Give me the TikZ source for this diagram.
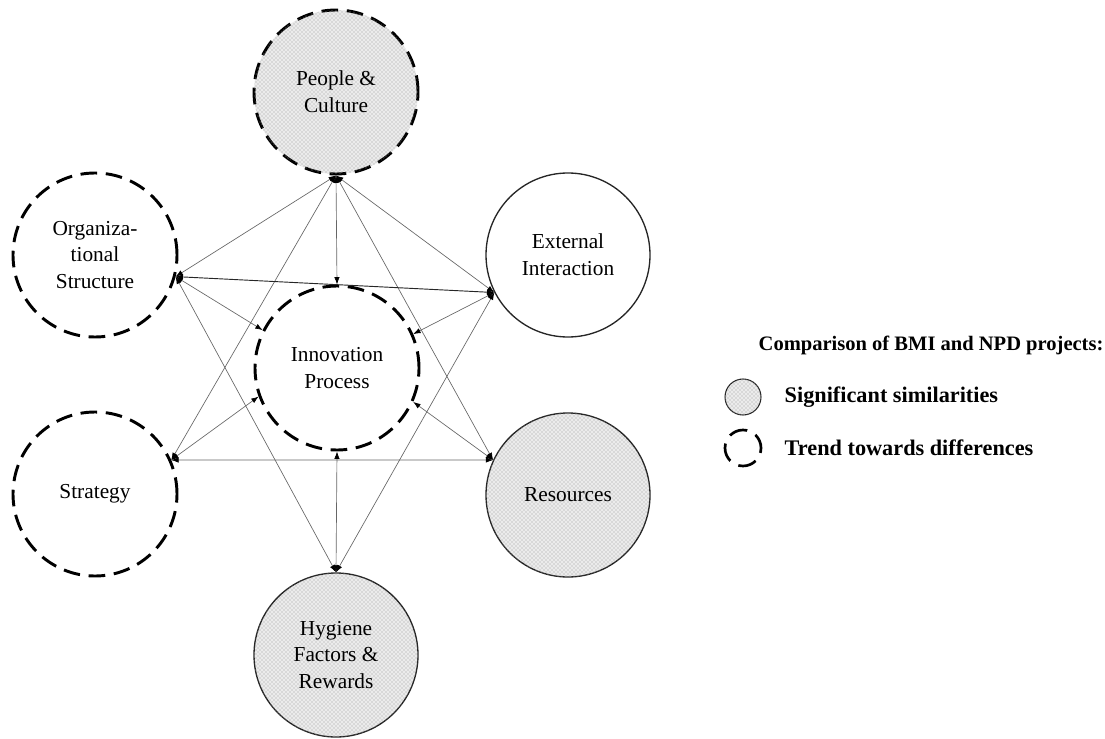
\documentclass[tikz,border=0pt]{standalone}
\usepackage{fontspec}
\setmainfont{Liberation Serif}
\usetikzlibrary{arrows.meta,patterns}
\begin{document}
\begin{tikzpicture}[x=0.75pt,y=-0.75pt,
  factor/.style={circle, minimum size=123pt, inner sep=0pt, align=center,
    font=\fontsize{16}{20}\selectfont},
  similar/.style={fill=black!8,
    postaction={pattern=crosshatch dots, pattern color=black!40}},
  differ/.style={draw=black, line width=2.2pt, dash pattern=on 12.5pt off 6.5pt},
  solidrim/.style={draw=black!85, line width=1pt},
  link/.style={draw=black!60, line width=0.5pt,
    {Latex[length=5.5pt,width=4pt,black]}-{Latex[length=5.5pt,width=4pt,black]}},
  strong/.style={draw=black!85, line width=0.7pt},
  legendtext/.style={anchor=west, font=\bfseries\fontsize{16.7}{20}\selectfont}]
\useasboundingbox (0,0) rectangle (1105,738);

% the seven factors
\node[factor, similar, differ]   (pc) at (336,92)  {People \&\\Culture};
\node[factor, differ]            (os) at (95,255)  {Organiza-\\tional\\Structure};
\node[factor, solidrim]          (ei) at (568,255) {External\\Interaction};
\node[factor, differ]            (ip) at (337,368) {Innovation\\Process};
\node[factor, differ]            (st) at (95,494)  {Strategy};
\node[factor, similar, solidrim] (rs) at (568,495) {Resources};
\node[factor, similar, solidrim] (hf) at (336,655) {Hygiene\\Factors \&\\Rewards};

% relations between the factors
\draw[link] (pc.south) -- (os.-15);
\draw[link] (pc.south) -- (ei.207);
\draw[link] (pc.south) -- (st.24);
\draw[link] (pc.south) -- (rs.155);
\draw[link] (pc.south) -- (ip.north);
\draw[link, strong] (os.-15) -- (ei.207);
\draw[link] (os.-15) -- (hf.north);
\draw[link] (os.-15) -- (ip.153);
\draw[link] (ei.207) -- (hf.north);
\draw[link] (ei.207) -- (ip.24);
\draw[link] (st.24) -- (rs.155);
\draw[link] (st.24) -- (ip.200);
\draw[link] (rs.155) -- (ip.-24);
\draw[link] (hf.north) -- (ip.south);

% legend
\node[legendtext, font=\bfseries\fontsize{15.4}{20}\selectfont] (lt) at (754,345) {Comparison of BMI and NPD projects:};
\node[circle, minimum size=27pt, inner sep=0pt, similar, draw=black!85, line width=0.8pt] (l1) at (743,397) {};
\node[legendtext] (l1t) at (780,397) {Significant similarities};
\node[circle, minimum size=27pt, inner sep=0pt, draw=black, line width=2pt,
  dash pattern=on 14pt off 7pt, dash phase=3pt] (l2) at (743,448) {};
\node[legendtext] (l2t) at (780,448) {Trend towards differences};
\end{tikzpicture}
\end{document}
